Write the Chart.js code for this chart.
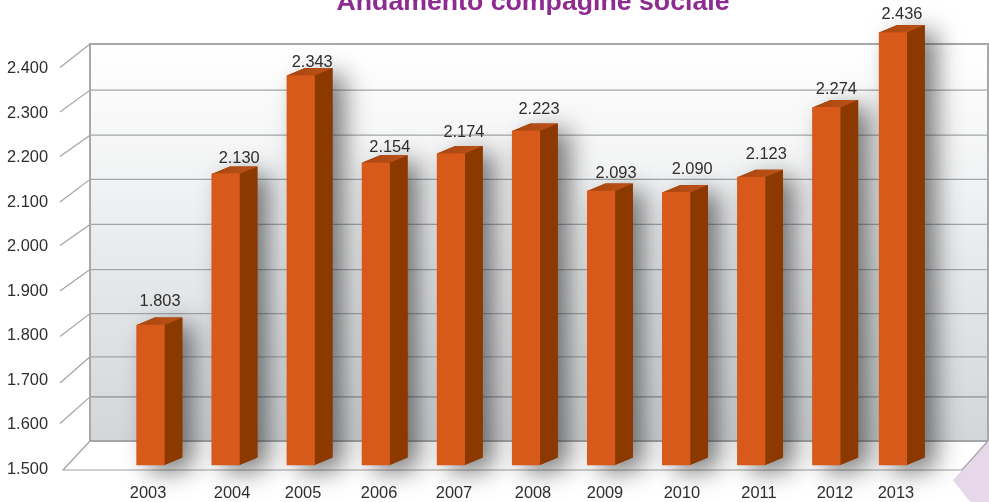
<!DOCTYPE html>
<html lang="it">
<head>
<meta charset="utf-8">
<title>Andamento compagine sociale</title>
<style>
html,body{margin:0;padding:0;background:#fff;overflow:hidden}
canvas{display:block}
</style>
<script src="https://cdn.jsdelivr.net/npm/chart.js@4"></script>
</head>
<body>
<canvas id="c" width="989" height="502"></canvas>
<script>
const chartTitle = 'Andamento compagine sociale';
const years = ['2003','2004','2005','2006','2007','2008','2009','2010','2011','2012','2013'];
const members = [1803,2130,2343,2154,2174,2223,2093,2090,2123,2274,2436];
const axisTicks = [1500,1600,1700,1800,1900,2000,2100,2200,2300,2400];

const fmt = v => String(v).replace(/(\d)(\d{3})$/, '$1.$2');

/* Look of the pseudo-3D frame and bars */
const look = {
  depthX: 18, depthY: 7.5,
  wallLeft: 90, wallRight: 988, wallTop: 44, wallBottom: 441,
  floorLeft: 63, floorRight: 962, floorFront: 470,
  wallDrift: [0,0,4,5,5,4,3,3,2,0],
  tickDrift: [1,-1,3,1,0,-1,0,-1,-1,-1],
  barShift: [0,0,0,0,0,0,0,0,0,0,-8.5],
  labelShift: [-2.5,6.4,2.3,3.2,3.1,7,3.9,5.8,7.7,8.6,-5.5],
  valueDx: [9.5,13.5,11.5,14,13,13,15,16,15,10,9],
  valueLift: [16,8,6,8,14,14,10,15,15,10,11]
};

const scene = {
  id: 'scene',
  afterLayout(chart){
    const t = chart.titleBlock;
    t.left += 7; t.right += 7;
  },
  afterDatasetsUpdate(chart){
    chart.getDatasetMeta(0).data.forEach((el,i)=>{ el.x += look.barShift[i]; });
  },
  beforeDraw(chart){
    const c = chart.ctx, L = look, y = chart.scales.y;
    // moves the x tick labels to where the reference prints them
    const items = chart.scales.x.getLabelItems();
    if (items !== scene._items){
      items.forEach((it,i)=>{ it.options.translation[0] += L.labelShift[i]; });
      scene._items = items;
    }
    c.save();
    // pale decoration in the corner
    c.fillStyle = '#e6d8ea';
    c.beginPath(); c.moveTo(953,480); c.lineTo(989,441); c.lineTo(989,502); c.lineTo(970,502); c.closePath(); c.fill();
    // floor
    c.fillStyle = '#ffffff';
    c.beginPath(); c.moveTo(L.wallLeft,L.wallBottom); c.lineTo(L.wallRight,L.wallBottom);
    c.lineTo(L.floorRight,L.floorFront); c.lineTo(L.floorLeft,L.floorFront); c.closePath(); c.fill();
    // back wall
    const g = c.createLinearGradient(0,L.wallTop,0,L.wallBottom);
    g.addColorStop(0,'#ffffff'); g.addColorStop(.35,'#f1f2f3'); g.addColorStop(1,'#d3d5d7');
    c.fillStyle = g;
    c.fillRect(L.wallLeft,L.wallTop,L.wallRight-L.wallLeft,L.wallBottom-L.wallTop);
    // wall lines + diagonal ticks driven by the axis
    c.strokeStyle = '#a3a5a8'; c.lineWidth = 1.3;
    const base = y.getPixelForValue(axisTicks[0]);
    const span = base - y.getPixelForValue(axisTicks[axisTicks.length-1]);
    axisTicks.forEach((v,i)=>{
      const frac = (base - y.getPixelForValue(v))/span;
      const wy = L.wallBottom - frac*(L.wallBottom-L.wallTop) + L.wallDrift[i];
      c.lineWidth = (i===0||i===1||i===axisTicks.length-1)?1.8:1.3;
      c.beginPath(); c.moveTo(L.wallLeft,wy); c.lineTo(L.wallRight,wy); c.stroke();
      if (i>0){
        c.lineWidth = 1.1;
        c.strokeStyle = '#a0a0a0';
        c.beginPath(); c.moveTo(L.wallLeft,wy); c.lineTo(60,y.getPixelForValue(v)+L.tickDrift[i]); c.stroke();
        c.strokeStyle = '#a3a5a8';
      }
    });
    // wall outline
    c.lineWidth = 2; c.strokeStyle = '#a6a8aa';
    c.beginPath(); c.moveTo(L.wallLeft,L.wallBottom); c.lineTo(L.wallLeft,L.wallTop); c.lineTo(L.wallRight,L.wallTop); c.lineTo(L.wallRight,L.wallBottom); c.stroke();
    // floor edges
    c.lineWidth = 1.2; c.strokeStyle = '#a0a0a0';
    c.beginPath(); c.moveTo(L.wallLeft,L.wallBottom); c.lineTo(L.floorLeft,L.floorFront); c.lineTo(L.floorRight,L.floorFront); c.lineTo(L.wallRight,L.wallBottom); c.stroke();
    c.restore();
  },
  beforeDatasetsDraw(chart){
    const c = chart.ctx, L = look, bars = chart.getDatasetMeta(0).data;
    c.save();
    bars.forEach(b=>{
      const l = b.x-b.width/2, r = b.x+b.width/2;
      c.save();
      c.shadowColor = 'rgba(40,40,42,.6)'; c.shadowBlur = 24; c.shadowOffsetX = 12; c.shadowOffsetY = 7;
      c.fillStyle = '#8c3900';
      c.beginPath();
      c.moveTo(l,b.y); c.lineTo(l+L.depthX,b.y-L.depthY); c.lineTo(r+L.depthX,b.y-L.depthY);
      c.lineTo(r+L.depthX,b.base-L.depthY); c.lineTo(r,b.base); c.lineTo(l,b.base); c.closePath(); c.fill();
      c.restore();
    });
    bars.forEach(b=>{
      const l = b.x-b.width/2, r = b.x+b.width/2;
      c.fillStyle = '#8c3900';
      c.beginPath(); c.moveTo(r,b.y); c.lineTo(r+L.depthX,b.y-L.depthY); c.lineTo(r+L.depthX,b.base-L.depthY); c.lineTo(r,b.base); c.closePath(); c.fill();
      const tg = c.createLinearGradient(l,0,r+L.depthX,0);
      tg.addColorStop(0,'#a8470f'); tg.addColorStop(1,'#bc5218');
      c.fillStyle = tg;
      c.beginPath(); c.moveTo(l,b.y); c.lineTo(l+L.depthX,b.y-L.depthY); c.lineTo(r+L.depthX,b.y-L.depthY); c.lineTo(r,b.y); c.closePath(); c.fill();
    });
    c.restore();
  },
  afterDatasetsDraw(chart){
    const c = chart.ctx, L = look, bars = chart.getDatasetMeta(0).data;
    c.save();
    c.font = '16.4px "Liberation Sans", Arial, sans-serif';
    c.fillStyle = '#2e2e2e'; c.textAlign = 'center'; c.textBaseline = 'middle';
    bars.forEach((b,i)=>{
      c.fillText(fmt(members[i]), b.x + L.valueDx[i], b.y - L.depthY - L.valueLift[i]);
    });
    c.restore();
  }
};

new Chart(document.getElementById('c'), {
  type: 'bar',
  data: {
    labels: years,
    datasets: [{
      label: 'Soci',
      data: members,
      yAxisID: 'yBars',
      base: 1500,
      backgroundColor: '#d85a1a',
      barThickness: 27.5
    }]
  },
  options: {
    responsive: false,
    animation: false,
    events: [],
    layout: { padding: { left: 0, right: 50, top: 0, bottom: 0 } },
    plugins: {
      legend: { display: false },
      tooltip: { enabled: false },
      title: {
        display: true,
        text: chartTitle,
        color: '#8e2b90',
        fullSize: false,
        font: { family: '"Liberation Sans", Arial, sans-serif', size: 26.7, weight: 'bold', lineHeight: 1.2 },
        padding: { top: -13.5, bottom: 5.46 }
      }
    },
    scales: {
      x: {
        grid: { display: false, drawTicks: false },
        border: { display: false },
        ticks: {
          z: 1, padding: 15, maxRotation: 0, autoSkip: false, color: '#2e2e2e',
          font: { family: '"Liberation Sans", Arial, sans-serif', size: 16.4 }
        },
        afterFit(s){ s.height = 33; }
      },
      y: {
        min: 1500, max: 2500,
        grid: { display: false, drawTicks: false },
        border: { display: false },
        afterBuildTicks(s){ s.ticks = axisTicks.map(value => ({ value })); },
        ticks: {
          padding: 65, color: '#2e2e2e',
          font: { family: '"Liberation Sans", Arial, sans-serif', size: 16.4 },
          callback: v => fmt(v)
        },
        afterFit(s){ s.width = 113; s.paddingTop = 0; s.paddingBottom = 0; }
      },
      yBars: {
        display: false,
        min: 1491.34, max: 2454.5
      }
    }
  },
  plugins: [scene]
});
</script>
</body>
</html>
